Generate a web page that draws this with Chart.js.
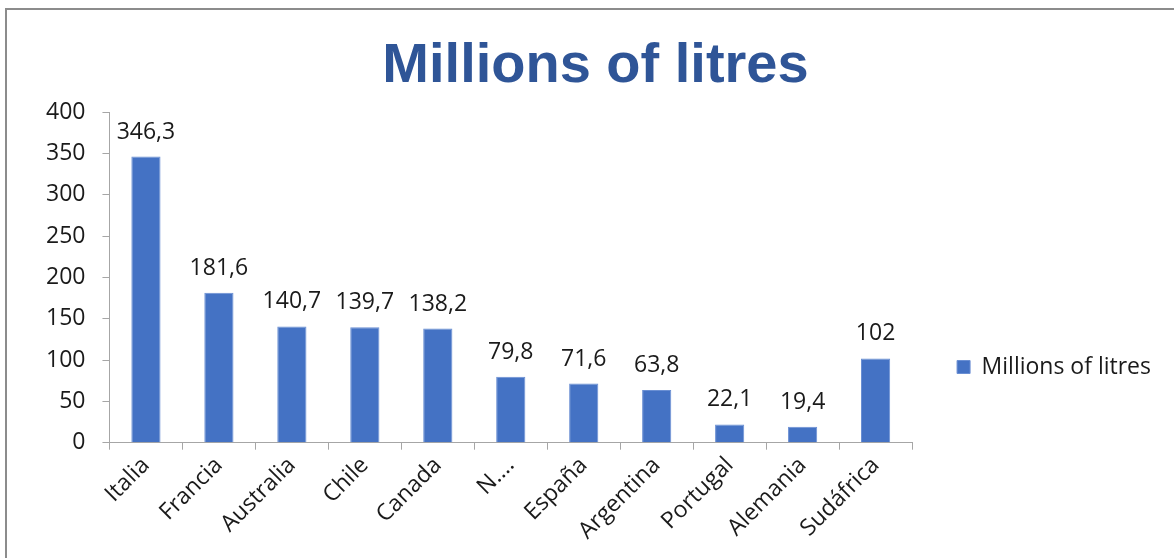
<!DOCTYPE html>
<html>
<head>
<meta charset="utf-8">
<script src="https://cdn.jsdelivr.net/npm/chart.js@4/dist/chart.umd.min.js"></script>
<style>
    html, body { margin: 0; padding: 0; background: #fff; overflow: hidden; }
    #frame {
        position: absolute; left: 5px; top: 8px;
        width: 1200px; height: 600px;
        border-left: 2px solid #8c8c8c;
        border-top: 2px solid #8c8c8c;
    }
    #wrap { position: absolute; left: 0; top: 0; width: 1174px; height: 558px; }
</style>
</head>
<body>
<div id="frame"></div>
<div id="wrap"><canvas id="chart"></canvas></div>
<script>
// values
const categories = ["Italia", "Francia", "Australia", "Chile", "Canada", "N....", "España", "Argentina", "Portugal", "Alemania", "Sudáfrica"];
const litres = [346.3, 181.6, 140.7, 139.7, 138.2, 79.8, 71.6, 63.8, 22.1, 19.4, 102];
const yTicks = [0, 50, 100, 150, 200, 250, 300, 350, 400];

const barBlue = "#4472C4";
const axisGray = "#a6a6a6";
const textColor = "#1a1a1a";
const font = "'Open Sans', sans-serif";
const textSize = 23;

// value labels above each bar, decimal comma like the original
const valueLabels = {
    id: "valueLabels",
    afterDatasetsDraw(chart) {
        const ctx = chart.ctx;
        const meta = chart.getDatasetMeta(0);
        ctx.save();
        ctx.font = textSize + "px " + font;
        ctx.fillStyle = textColor;
        ctx.textAlign = "center";
        ctx.textBaseline = "bottom";
        meta.data.forEach((bar, i) => {
            const txt = String(litres[i]).replace(".", ",");
            ctx.fillText(txt, bar.x, bar.y - 13);
        });
        ctx.restore();
    }
};

// legend sits lower than the plot centre, title a bit right of centre
const nudge = {
    id: "nudge",
    afterLayout(chart) {
        const lg = chart.legend;
        lg.top += 77;
        lg.bottom += 77;
        lg.left -= 13;
        lg.right -= 13;
        chart.titleBlock.left -= 6;
        chart.titleBlock.right -= 6;
    }
};

new Chart(document.getElementById("chart"), {
    type: "bar",
    data: {
        labels: categories,
        datasets: [{
            label: "Millions of litres",
            data: litres,
            backgroundColor: barBlue,
            borderColor: "#6a8fd3",
            borderWidth: 1,
            categoryPercentage: 1,
            barPercentage: 0.4
        }]
    },
    options: {
        responsive: true,
        maintainAspectRatio: false,
        animation: false,
        layout: { padding: { left: 29, right: 0, top: 33, bottom: 11 } },
        scales: {
            y: {
                min: 0,
                max: 400,
                afterBuildTicks: axis => { axis.ticks = yTicks.map(v => ({ value: v })); },
                border: { display: true, color: axisGray },
                grid: { drawOnChartArea: false, tickLength: 7, color: axisGray },
                ticks: { color: textColor, font: { family: font, size: textSize }, padding: 17 }
            },
            x: {
                border: { display: true, color: axisGray },
                grid: { drawOnChartArea: false, tickLength: 7, color: axisGray, offset: true },
                ticks: {
                    color: textColor,
                    font: { family: font, size: textSize },
                    minRotation: 45,
                    maxRotation: 45,
                    autoSkip: false,
                    padding: 2
                }
            }
        },
        plugins: {
            title: {
                display: true,
                text: "Millions of litres",
                color: "#2F5597",
                font: { family: "'Liberation Sans', Arial, sans-serif", size: 56, weight: "bold" },
                padding: { top: 0, bottom: 12 }
            },
            legend: {
                position: "right",
                labels: {
                    color: textColor,
                    font: { family: font, size: textSize },
                    boxWidth: 13,
                    boxHeight: 13,
                    padding: 58
                }
            },
            tooltip: { enabled: false }
        }
    },
    plugins: [valueLabels, nudge]
});
</script>
</body>
</html>
